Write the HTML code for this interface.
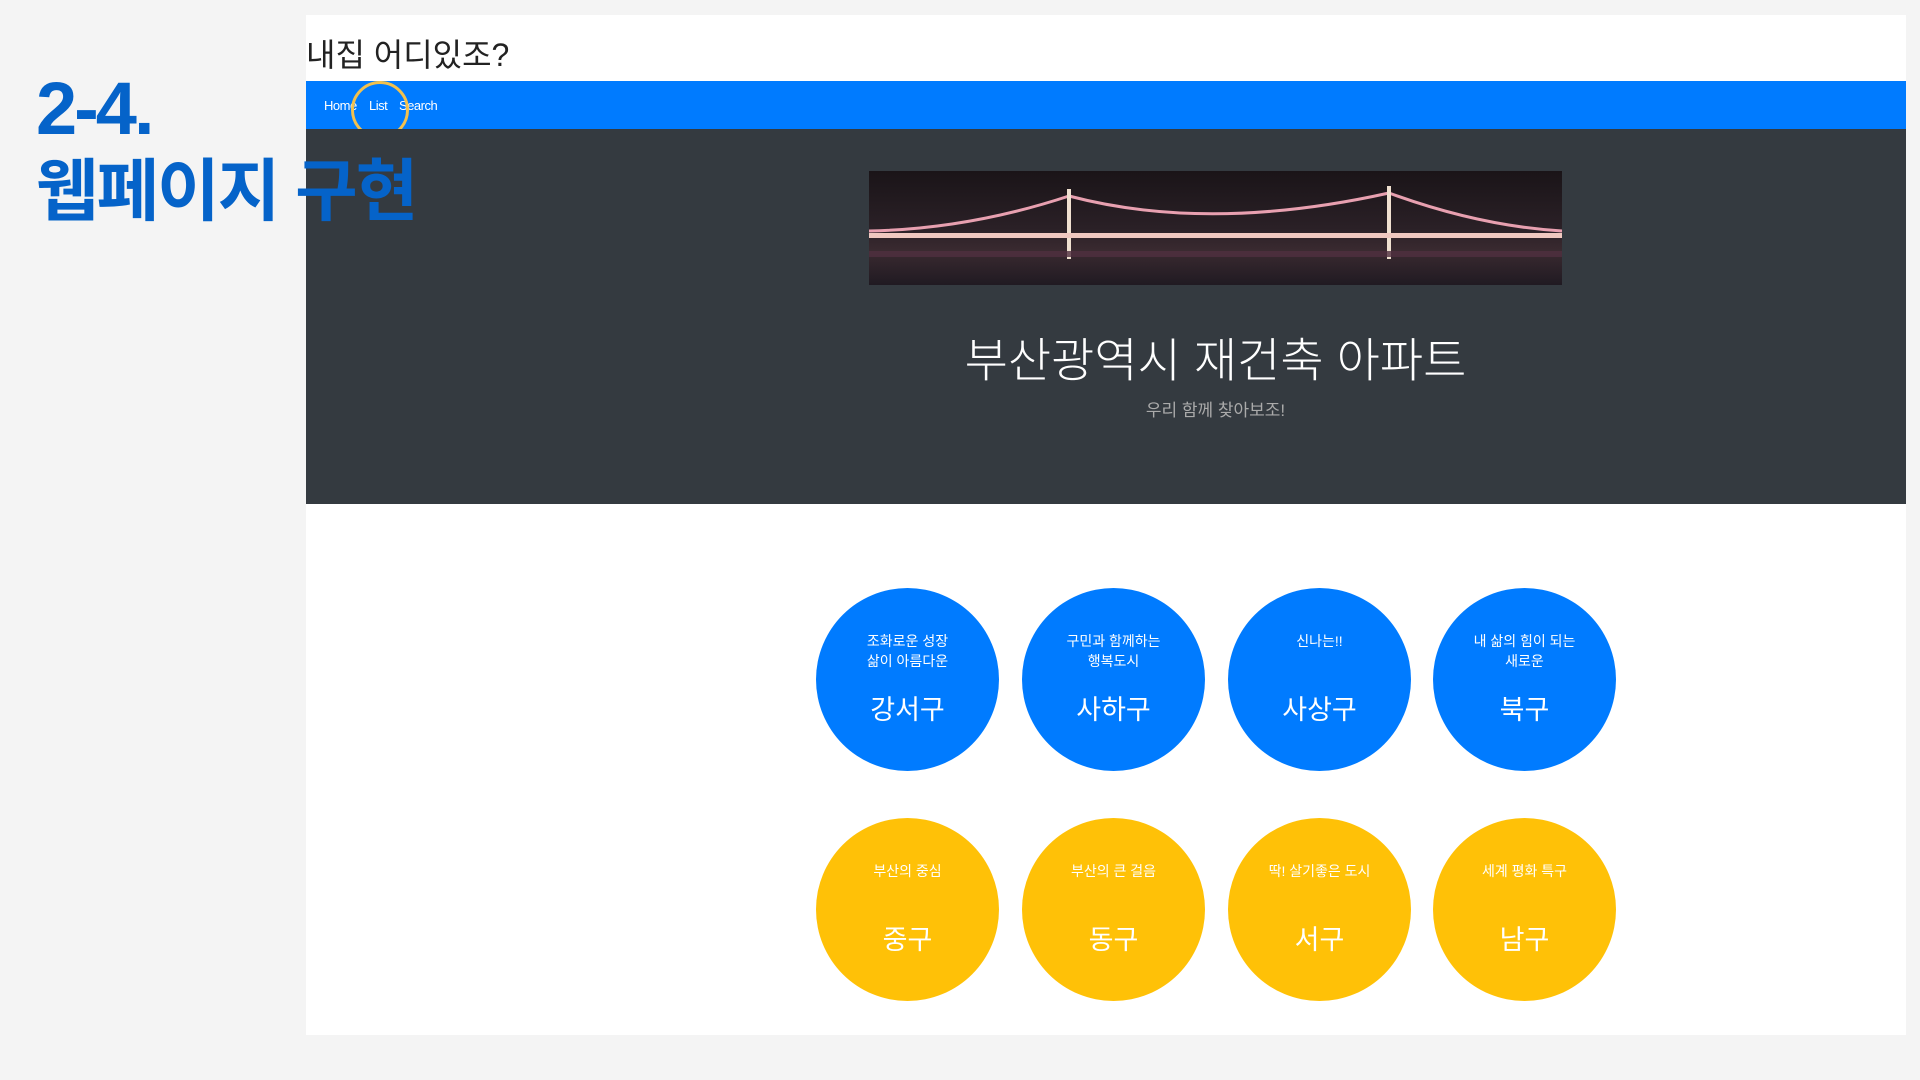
<!DOCTYPE html>
<html><head><meta charset="utf-8"><style>
body{margin:0;width:1920px;height:1080px;background:#f4f4f4;position:relative;overflow:hidden;font-family:"Liberation Sans","Noto Sans CJK KR",sans-serif}
.abs{position:absolute}
#panel{left:306px;top:15px;width:1600px;height:1020px;background:#fff}
#title{left:306px;top:30px;font-size:32px;color:#222}
#nav{left:306px;top:81px;width:1600px;height:48px;background:#007bff}
.nl{top:98px;font-size:13px;color:#fff;letter-spacing:-0.5px}
#hero{left:306px;top:129px;width:1600px;height:375px;background:#343a40}
#h1{left:869px;top:322px;width:693px;text-align:center;font-size:47px;color:#fff;font-weight:300;white-space:nowrap}
#sub{left:869px;top:396px;width:693px;text-align:center;font-size:17px;color:#aaa}
.c{width:183px;height:183px;border-radius:50%;color:#fff;text-align:center}
.c .s{position:absolute;top:43px;width:100%;font-size:14px;line-height:20px}
.c .b{position:absolute;top:100px;width:100%;font-size:27px}
.y .b{top:100px}
.bl{background:#007bff}.y{background:#ffc107}
.hd{left:36px;color:#0563c9;font-weight:bold;z-index:5}
</style></head><body>
<div class="abs" id="panel"></div>
<div class="abs" id="title">내집 어디있조?</div>
<div class="abs" id="nav"></div>
<div class="abs nl" style="left:324px">Home</div>
<div class="abs nl" style="left:369px">List</div>
<div class="abs nl" style="left:399px">Search</div>
<div class="abs" style="left:351px;top:81px;width:52px;height:52px;border:3px solid #f2c14e;border-radius:50%"></div>
<div class="abs" id="hero"></div>
<svg class="abs" style="left:869px;top:171px" width="693" height="114">
<defs><linearGradient id="g" x1="0" y1="0" x2="0" y2="1"><stop offset="0" stop-color="#1a1418"/><stop offset="0.5" stop-color="#2a2026"/><stop offset="0.7" stop-color="#3a2a30"/><stop offset="1" stop-color="#201a22"/></linearGradient></defs>
<rect width="693" height="114" fill="url(#g)"/>
<path d="M0,60 Q100,58 200,25 Q340,62 520,22 Q610,55 693,60" stroke="#e8a0b0" stroke-width="3" fill="none"/>
<line x1="200" y1="18" x2="200" y2="88" stroke="#f0e0d0" stroke-width="4"/>
<line x1="520" y1="15" x2="520" y2="88" stroke="#f0e0d0" stroke-width="4"/>
<rect x="0" y="62" width="693" height="5" fill="#f0c8c0"/>
<rect x="0" y="80" width="693" height="6" fill="#503040" opacity="0.8"/>
</svg>
<div class="abs" id="h1">부산광역시 재건축 아파트</div>
<div class="abs" id="sub">우리 함께 찾아보조!</div>

<div class="abs c bl" style="left:816px;top:588px"><div class="s">조화로운 성장<br>삶이 아름다운</div><div class="b">강서구</div></div>
<div class="abs c bl" style="left:1022px;top:588px"><div class="s">구민과 함께하는<br>행복도시</div><div class="b">사하구</div></div>
<div class="abs c bl" style="left:1228px;top:588px"><div class="s">신나는!!</div><div class="b">사상구</div></div>
<div class="abs c bl" style="left:1433px;top:588px"><div class="s">내 삶의 힘이 되는<br>새로운</div><div class="b">북구</div></div>
<div class="abs c y" style="left:816px;top:818px"><div class="s">부산의 중심</div><div class="b">중구</div></div>
<div class="abs c y" style="left:1022px;top:818px"><div class="s">부산의 큰 걸음</div><div class="b">동구</div></div>
<div class="abs c y" style="left:1228px;top:818px"><div class="s">딱! 살기좋은 도시</div><div class="b">서구</div></div>
<div class="abs c y" style="left:1433px;top:818px"><div class="s">세계 평화 특구</div><div class="b">남구</div></div>

<div class="abs hd" style="top:66px;font-size:74px;letter-spacing:-3px">2-4.</div>
<div class="abs hd" style="top:136px;font-size:68px;letter-spacing:-2px">웹페이지 구현</div>
</body></html>
